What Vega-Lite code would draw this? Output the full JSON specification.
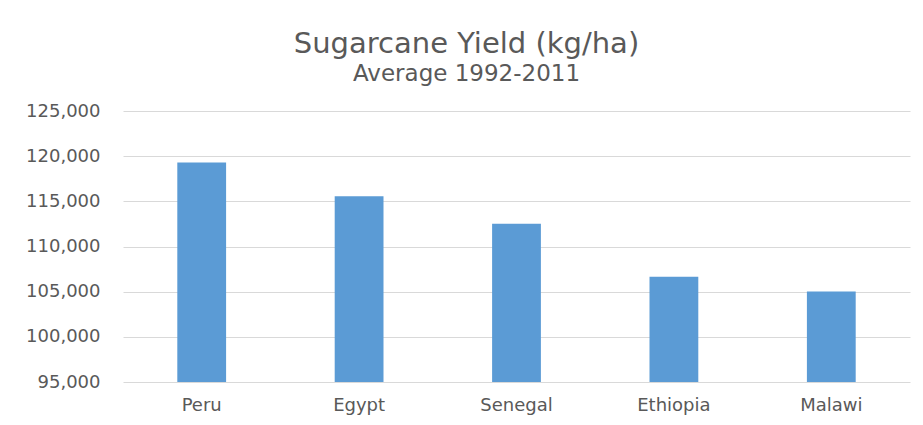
{
  "$schema": "https://vega.github.io/schema/vega-lite/v6.json",
  "autosize": {"type": "none"},
  "width": 787,
  "height": 271,
  "padding": {"left": 123, "top": 111, "right": 13, "bottom": 43},
  "background": "white",
  "title": {
    "text": "Sugarcane Yield (kg/ha)",
    "subtitle": "Average 1992-2011",
    "anchor": "middle",
    "frame": "group",
    "dx": -50,
    "offset": 16,
    "font": "DejaVu Sans",
    "fontSize": 29,
    "fontWeight": "normal",
    "color": "#595959",
    "subtitleFont": "DejaVu Sans",
    "subtitleFontSize": 23,
    "subtitleColor": "#595959",
    "subtitlePadding": 4
  },
  "data": {
    "values": [
      {"country": "Peru", "yield": 119300},
      {"country": "Egypt", "yield": 115550},
      {"country": "Senegal", "yield": 112530},
      {"country": "Ethiopia", "yield": 106640},
      {"country": "Malawi", "yield": 105010}
    ]
  },
  "mark": {"type": "bar", "color": "#5B9BD5", "clip": true},
  "encoding": {
    "x": {
      "field": "country",
      "type": "nominal",
      "sort": null,
      "scale": {"paddingInner": 0.69, "paddingOuter": 0.345},
      "axis": {
        "title": null,
        "labelAngle": 0,
        "ticks": false,
        "domain": false,
        "labelPadding": 14,
        "labelFont": "DejaVu Sans",
        "labelFontSize": 18,
        "labelColor": "#595959"
      }
    },
    "y": {
      "field": "yield",
      "type": "quantitative",
      "scale": {"domain": [95000, 125000], "zero": false, "nice": false},
      "axis": {
        "title": null,
        "values": [95000, 100000, 105000, 110000, 115000, 120000, 125000],
        "format": ",.0f",
        "ticks": false,
        "domain": false,
        "labelPadding": 23,
        "labelFont": "DejaVu Sans",
        "labelFontSize": 18,
        "labelColor": "#595959",
        "gridColor": "#d9d9d9",
        "gridWidth": 1
      }
    }
  },
  "config": {"view": {"stroke": null}}
}
